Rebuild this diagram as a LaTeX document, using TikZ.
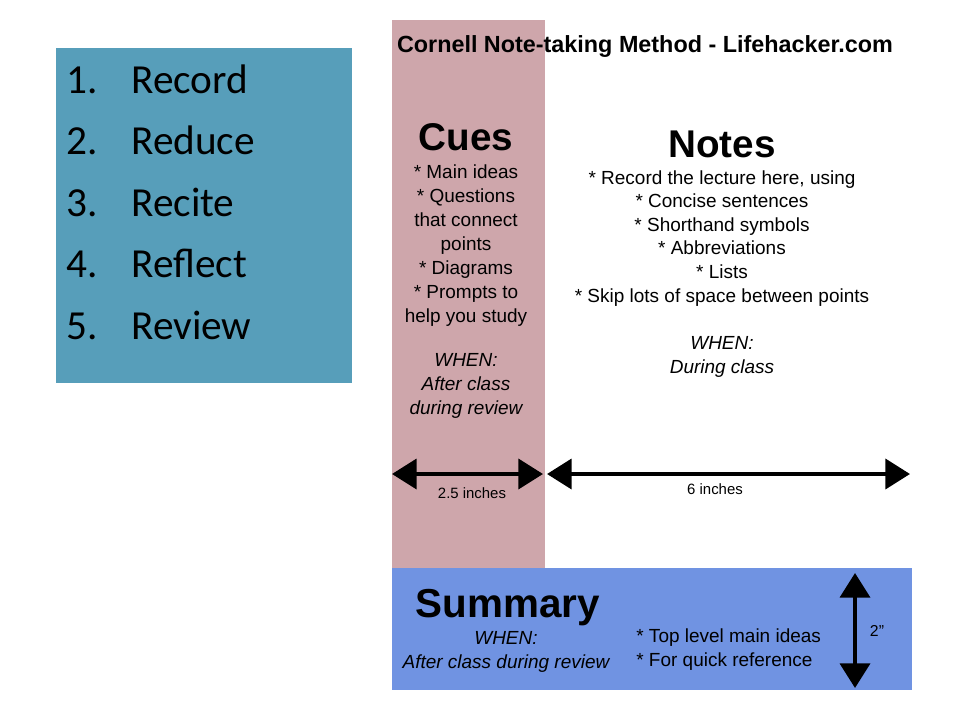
\documentclass[tikz,border=0pt]{standalone}
\usepackage{fontspec}
\setmainfont{Liberation Sans}
\newfontfamily\listfont{Carlito}
\usetikzlibrary{arrows.meta}
\definecolor{stepblue}{RGB}{87,158,186}
\definecolor{cuepink}{RGB}{206,166,171}
\definecolor{sumblue}{RGB}{112,147,226}

\tikzset{
  bodytext/.style={inner sep=0pt,align=center,font=\fontsize{10.8}{13.6}\selectfont},
  headtext/.style={inner sep=0pt,font=\bfseries\fontsize{22}{26}\selectfont},
  dimtext/.style={inner sep=0pt,font=\fontsize{8.5}{10}\selectfont},
  dimarrow/.style={line width=2.3pt,{Triangle[length=14pt,width=17pt]}-{Triangle[length=14pt,width=17pt]}}
}

\begin{document}
\begin{tikzpicture}[x=0.02cm,y=-0.02cm]
\useasboundingbox (0,0) rectangle (960,720);
% left list of steps
\fill[stepblue] (56,48) rectangle (352,383);
\foreach \n/\step [count=\i] in {1/Record,2/Reduce,3/Recite,4/Reflect,5/Review}{
  \node[inner sep=0pt,anchor=base west,font=\listfont\fontsize{23.5}{28}\selectfont] (num\i) at (66,{93+61.5*(\i-1)}) {\n.};
  \node[inner sep=0pt,anchor=base west,font=\listfont\fontsize{23.5}{28}\selectfont] (step\i) at (131,{93+61.5*(\i-1)}) {\step};
}
% sheet areas
\fill[cuepink] (392,20) rectangle (545,568);
\fill[sumblue] (392,568) rectangle (912,690);
\node[inner sep=0pt,anchor=base,font=\bfseries\fontsize{13.3}{16}\selectfont] (title) at (645,52) {Cornell Note-taking Method - Lifehacker.com};
% cues (multi-line nodes sit on their last baseline)
\node[headtext,anchor=base] (cues) at (466,150) {Cues};
\node[bodytext,anchor=base] (cuesbody) at (466,322) {* Main ideas\\* Questions\\that connect\\points\\* Diagrams\\* Prompts to\\help you study};
\node[bodytext,anchor=base,font=\itshape\fontsize{10.8}{13.6}\selectfont] (cueswhen) at (466,414) {WHEN:\\After class\\during review};
% notes
\node[headtext,anchor=base] (notes) at (722,157) {Notes};
\node[bodytext,anchor=base,font=\fontsize{10.8}{13.4}\selectfont] (notesbody) at (722,302) {* Record the lecture here, using\\* Concise sentences\\* Shorthand symbols\\* Abbreviations\\* Lists\\* Skip lots of space between points};
\node[bodytext,anchor=base,font=\itshape\fontsize{10.8}{13.6}\selectfont] (noteswhen) at (722,373) {WHEN:\\During class};
% widths
\coordinate (cuesL) at (392,474);
\coordinate (cuesR) at (543,474);
\coordinate (notesL) at (547,474);
\coordinate (notesR) at (910,474);
\draw[dimarrow] (cuesL) -- (cuesR);
\draw[dimarrow] (notesL) -- (notesR);
\node[dimtext] (cueswidth) at (472,493) {2.5 inches};
\node[dimtext] (noteswidth) at (715,489) {6 inches};
% summary
\node[headtext,anchor=base,font=\bfseries\fontsize{23}{27}\selectfont] (summary) at (508,617) {Summary};
\node[bodytext,anchor=base,font=\itshape\fontsize{10.8}{13.6}\selectfont] (sumwhen) at (506,668) {WHEN:\\After class during review};
\node[bodytext,anchor=base west,align=left] (sumbody) at (636,666) {* Top level main ideas\\* For quick reference};
\coordinate (sumT) at (855,573);
\coordinate (sumB) at (855,688);
\draw[dimarrow] (sumT) -- (sumB);
\node[inner sep=0pt,font=\fontsize{9}{10}\selectfont] (sumheight) at (877,631) {2"};
\end{tikzpicture}
\end{document}
